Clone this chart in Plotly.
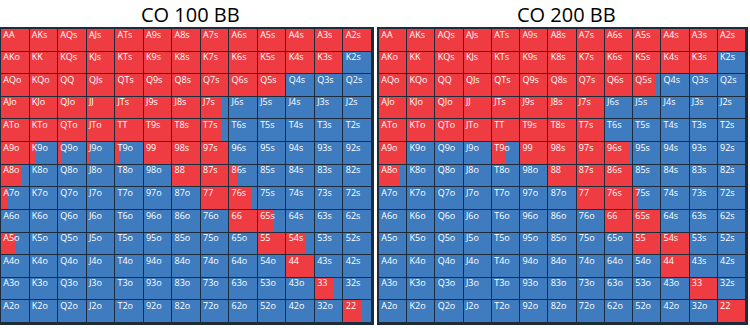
import plotly.graph_objects as go

RANKS = list("AKQJT98765432")
TITLES = ["CO 100 BB", "CO 200 BB"]

# raise frequency per cell (row = first rank, col = second rank)
RAISE_100 = [
    [1, 1, 1, 1, 1, 1, 1, 1, 1, 1, 1, 1, 1],
    [1, 1, 1, 1, 1, 1, 1, 1, 1, 1, 1, 1, 0],
    [1, 1, 1, 1, 1, 1, 1, 1, 1, 1, 0, 0, 0],
    [1, 1, 1, 1, 1, 1, 1, 0.75, 0, 0, 0, 0, 0],
    [1, 1, 1, 1, 1, 1, 1, 0.7, 0, 0, 0, 0, 0],
    [1, 0.22, 0.15, 0.07, 0.17, 1, 1, 1, 0, 0, 0, 0, 0],
    [0.69, 0, 0, 0, 0, 0, 1, 1, 0.28, 0, 0, 0, 0],
    [0.2, 0, 0, 0, 0, 0, 0, 1, 0.77, 0, 0, 0, 0],
    [0, 0, 0, 0, 0, 0, 0, 0, 1, 0.58, 0, 0, 0],
    [0.5, 0, 0, 0, 0, 0, 0, 0, 0, 1, 0.7, 0, 0],
    [0, 0, 0, 0, 0, 0, 0, 0, 0, 0, 1, 0, 0],
    [0, 0, 0, 0, 0, 0, 0, 0, 0, 0, 0, 0.64, 0],
    [0, 0, 0, 0, 0, 0, 0, 0, 0, 0, 0, 0, 0.65],
]

RAISE_200 = [
    [1, 1, 1, 1, 1, 1, 1, 1, 1, 1, 1, 1, 1],
    [1, 1, 1, 1, 1, 1, 1, 1, 1, 1, 1, 1, 0],
    [1, 1, 1, 1, 1, 1, 1, 1, 1, 0.8, 0, 0, 0],
    [1, 1, 1, 1, 1, 1, 1, 1, 0, 0, 0, 0, 0],
    [1, 1, 1, 1, 1, 1, 1, 1, 0, 0, 0, 0, 0],
    [1, 0, 0, 0, 0.46, 1, 1, 1, 0.89, 0, 0, 0, 0],
    [0.74, 0, 0, 0, 0, 0, 1, 1, 1, 0, 0, 0, 0],
    [0, 0, 0, 0, 0, 0, 0, 1, 1, 0.19, 0, 0, 0],
    [0, 0, 0, 0, 0, 0, 0, 0, 1, 1, 0, 0, 0],
    [0.03, 0, 0, 0, 0, 0, 0, 0, 0, 1, 1, 0, 0],
    [0, 0, 0, 0, 0, 0, 0, 0, 0, 0, 1, 0, 0],
    [0, 0, 0, 0, 0, 0, 0, 0, 0, 0, 0, 1, 0],
    [0, 0, 0, 0, 0, 0, 0, 0, 0, 0, 0, 0, 1],
]

RED = "#EF3C42"
BLUE = "#3E7CBF"
LINE = "#1E2B3A"


def hand(i, j):
    if i == j:
        return RANKS[i] + RANKS[j]
    if j > i:
        return RANKS[i] + RANKS[j] + "s"
    return RANKS[j] + RANKS[i] + "o"


fig = go.Figure()
W, H = 750, 328
xdoms = [[1 / W, 372 / W], [379 / W, 746 / W]]
ydom = [(H - 323) / H, (H - 29) / H]

for k, grid in enumerate([RAISE_100, RAISE_200]):
    xa = "x" if k == 0 else "x2"
    ya = "y" if k == 0 else "y2"
    rows, cols, red_w, blue_b, blue_w, labels, lx, ly = [], [], [], [], [], [], [], []
    for i in range(13):
        for j in range(13):
            f = grid[i][j]
            rows.append(i)
            cols.append(j)
            red_w.append(f)
            blue_b.append(j + f)
            blue_w.append(1 - f)
            labels.append(hand(i, j))
            lx.append(j + 0.08)
            ly.append(i - 0.22)
    fig.add_trace(go.Bar(orientation="h", y=rows, x=red_w, base=cols, width=1,
                         marker=dict(color=RED, line=dict(width=0)),
                         xaxis=xa, yaxis=ya, showlegend=False, hoverinfo="skip"))
    fig.add_trace(go.Bar(orientation="h", y=rows, x=blue_w, base=blue_b, width=1,
                         marker=dict(color=BLUE, line=dict(width=0)),
                         xaxis=xa, yaxis=ya, showlegend=False, hoverinfo="skip"))
    fig.add_trace(go.Bar(orientation="h", y=rows, x=[1] * len(rows), base=cols, width=1,
                         marker=dict(color="rgba(0,0,0,0)", line=dict(width=1, color=LINE)),
                         xaxis=xa, yaxis=ya, showlegend=False, hoverinfo="skip"))
    fig.add_trace(go.Scatter(x=lx, y=ly, text=labels, mode="text", textposition="middle right",
                             textfont=dict(color="white", size=9, family="Open Sans"),
                             xaxis=xa, yaxis=ya, showlegend=False, hoverinfo="skip"))
    fig.add_annotation(text=TITLES[k], xref="paper", yref="paper",
                       x=(xdoms[k][0] + xdoms[k][1]) / 2 + 4 / W, y=(H - 14) / H,
                       showarrow=False, font=dict(size=20, color="black", family="Open Sans"),
                       xanchor="center", yanchor="middle")

axis_common = dict(showgrid=False, zeroline=False, showticklabels=False, ticks="",
                   showline=True, mirror=True, linecolor=LINE, linewidth=2)
fig.update_layout(
    width=W, height=H, margin=dict(l=0, r=0, t=0, b=0),
    paper_bgcolor="white", plot_bgcolor="white", barmode="overlay", bargap=0,
    xaxis=dict(domain=xdoms[0], range=[0, 13], **axis_common),
    yaxis=dict(domain=ydom, range=[12.5, -0.5], **axis_common),
    xaxis2=dict(domain=xdoms[1], range=[0, 13], anchor="y2", **axis_common),
    yaxis2=dict(domain=ydom, range=[12.5, -0.5], anchor="x2", **axis_common),
)
fig.write_html("out.html")
